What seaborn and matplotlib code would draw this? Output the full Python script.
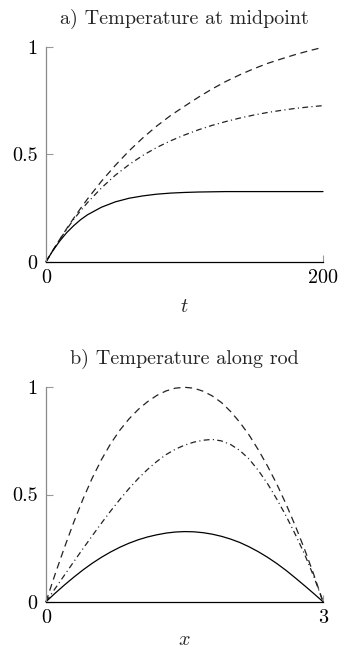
import matplotlib
matplotlib.use("Agg")
import matplotlib.pyplot as plt
import seaborn as sns
import pandas as pd

# ---- data ----
t_vals = [0, 5, 10, 15, 20, 25, 30, 40, 50, 60, 70, 80, 90, 100,
          110, 120, 130, 140, 150, 160, 170, 180, 190, 200]
mid_solid = [0, 0.052, 0.097, 0.136, 0.168, 0.196, 0.219, 0.254, 0.279, 0.296, 0.307, 0.315, 0.320, 0.323,
             0.325, 0.326, 0.327, 0.327, 0.327, 0.327, 0.327, 0.327, 0.327, 0.327]
mid_dashed = [0, 0.053, 0.105, 0.155, 0.203, 0.249, 0.293, 0.375, 0.449, 0.517, 0.578, 0.633, 0.682, 0.725,
              0.767, 0.806, 0.841, 0.872, 0.900, 0.925, 0.946, 0.966, 0.984, 1.000]
mid_dashdot = [0, 0.053, 0.104, 0.152, 0.197, 0.238, 0.276, 0.344, 0.403, 0.453, 0.496, 0.533, 0.564, 0.591,
               0.615, 0.636, 0.654, 0.670, 0.684, 0.696, 0.706, 0.715, 0.722, 0.728]

x_vals = [0, 0.1, 0.2, 0.3, 0.4, 0.5, 0.6, 0.7, 0.8, 0.9, 1.0, 1.1, 1.2, 1.3, 1.4, 1.5,
          1.6, 1.7, 1.8, 1.9, 2.0, 2.1, 2.2, 2.3, 2.4, 2.5, 2.6, 2.7, 2.8, 2.9, 3.0]
rod_solid = [0, 0.040, 0.078, 0.114, 0.148, 0.179, 0.207, 0.232, 0.254, 0.273, 0.289, 0.302, 0.312, 0.320, 0.325, 0.327,
             0.326, 0.322, 0.315, 0.305, 0.292, 0.276, 0.256, 0.233, 0.207, 0.178, 0.146, 0.111, 0.075, 0.038, 0]
rod_dashed = [0, 0.130, 0.253, 0.370, 0.478, 0.576, 0.662, 0.737, 0.800, 0.853, 0.897, 0.933, 0.962, 0.983, 0.996, 1.000,
              0.996, 0.982, 0.960, 0.929, 0.887, 0.836, 0.777, 0.708, 0.632, 0.548, 0.455, 0.354, 0.245, 0.127, 0]
rod_dashdot = [0, 0.062, 0.124, 0.186, 0.247, 0.307, 0.366, 0.423, 0.477, 0.528, 0.575, 0.617, 0.654, 0.686, 0.711, 0.730,
               0.744, 0.753, 0.757, 0.750, 0.733, 0.705, 0.665, 0.612, 0.550, 0.478, 0.400, 0.314, 0.222, 0.118, 0]

titles = ["a) Temperature at midpoint", "b) Temperature along rod"]
xlabels = ["$t$", "$x$"]
xlabelpads = [8, 3]
xticks_list = [[0, 200], [0, 3]]
xticklabels_list = [["0", "200"], ["0", "3"]]
yticks = [0, 0.5, 1]
yticklabels = ["0", "0.5", "1"]

# ---- style ----
sns.set_style("ticks")
plt.rcParams["font.family"] = ["cmr10", "DejaVu Serif"]
plt.rcParams["mathtext.fontset"] = "cm"
plt.rcParams["axes.formatter.use_mathtext"] = True
plt.rcParams["lines.scale_dashes"] = False

FS = 14.5
fig = plt.figure(figsize=(3.39, 6.53), dpi=100)
ax_top = fig.add_axes([46 / 339, 1 - 261.7 / 653, 277 / 339, 214.4 / 653])
ax_bot = fig.add_axes([46 / 339, 1 - 601.7 / 653, 277 / 339, 214.4 / 653])

dash = (0, (5.0, 3.4))
dashdot = (0, (4.2, 2.4, 0.8, 2.4))

df_top = pd.DataFrame({"t": t_vals, "solid": mid_solid, "dashed": mid_dashed, "dashdot": mid_dashdot})
df_bot = pd.DataFrame({"x": x_vals, "solid": rod_solid, "dashed": rod_dashed, "dashdot": rod_dashdot})

for ax, df, xc in [(ax_top, df_top, "t"), (ax_bot, df_bot, "x")]:
    sns.lineplot(data=df, x=xc, y="dashed", ax=ax, color="#222222", lw=0.9, linestyle=dash, clip_on=False)
    sns.lineplot(data=df, x=xc, y="dashdot", ax=ax, color="#222222", lw=0.9, linestyle=dashdot, clip_on=False)
    sns.lineplot(data=df, x=xc, y="solid", ax=ax, color="black", lw=0.9, clip_on=False)

for i, ax in enumerate([ax_top, ax_bot]):
    ax.set_xlim(xticks_list[i][0], xticks_list[i][1])
    ax.set_ylim(0, 1)
    ax.set_xticks(xticks_list[i])
    ax.set_xticklabels(xticklabels_list[i], fontsize=FS)
    ax.set_yticks(yticks)
    ax.set_yticklabels(yticklabels, fontsize=FS)
    ax.tick_params(axis="both", direction="in", length=5, width=0.8, color="#999999", labelcolor="black")
    ax.tick_params(axis="y", pad=6)
    ax.tick_params(axis="x", pad=5)
    for s in ["top", "right"]:
        ax.spines[s].set_visible(False)
    ax.spines["left"].set_color("#8a8a8a")
    ax.spines["left"].set_linewidth(0.9)
    ax.spines["bottom"].set_color("black")
    ax.spines["bottom"].set_linewidth(0.9)
    ax.set_xlabel(xlabels[i], fontsize=FS, labelpad=xlabelpads[i])
    ax.set_ylabel("")
    ax.set_title(titles[i], fontsize=FS, pad=17)
    ax.patch.set_alpha(0)

fig.savefig("out.png", dpi=100)
